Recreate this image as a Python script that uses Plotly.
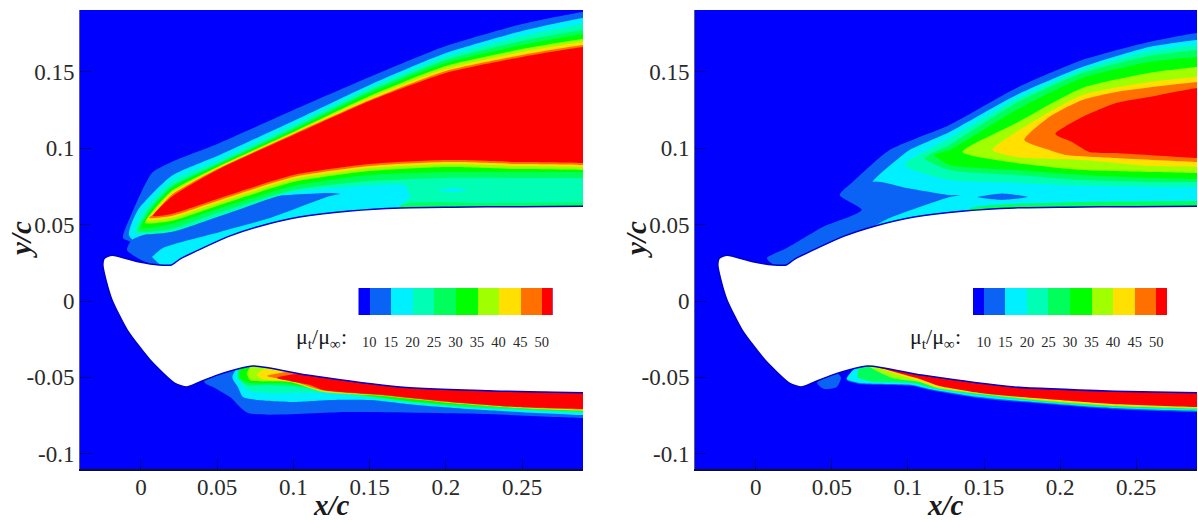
import plotly.graph_objects as go

# ---------- axis / legend content ----------
X_TICKS = [0, 0.05, 0.1, 0.15, 0.2, 0.25]
X_TEXT = ["0", "0.05", "0.1", "0.15", "0.2", "0.25"]
Y_TICKS = [-0.1, -0.05, 0, 0.05, 0.1, 0.15]
Y_TEXT = ["-0.1", "-0.05", "0", "0.05", "0.1", "0.15"]
LEVEL_TICKS = [10, 15, 20, 25, 30, 35, 40, 45, 50]
LEVEL_EDGES = [7.5, 10, 15, 20, 25, 30, 35, 40, 45, 50, 52.5]
LEVEL_COLORS = ["#0000ff", "#0a63f5", "#00f0ff", "#00ffb4", "#00ff5a", "#00ff00",
                "#a0ff00", "#ffe000", "#ff7000", "#ff0000"]
A, B, C, D, E, F, G, H, R = LEVEL_COLORS[1:]
EDGE_X = 0.29   # right end of the field

# ---------- airfoil outline (x/c, y/c) ----------
AIRFOIL = [(-0.024, 0.028), (-0.019, 0.030), (-0.001, 0.0255), (0.012, 0.0236), (0.020, 0.0236),
           (0.0256, 0.0275), (0.039, 0.034), (0.058, 0.0425), (0.078, 0.049), (0.104, 0.055),
           (0.137, 0.059), (0.17, 0.061), (0.203, 0.0615), (0.25, 0.0618), (0.29, 0.062), (0.29, -0.06),
           (0.2356, -0.059), (0.17, -0.0563), (0.109, -0.0485), (0.0735, -0.0425), (0.05, -0.0485),
           (0.037, -0.0537), (0.03, -0.0563), (0.022, -0.0537), (0.006, -0.0386), (-0.009, -0.019),
           (-0.019, 0.0007), (-0.023, 0.0138), (-0.025, 0.0236)]

# ---------- left panel, upper field ----------
L_STATIONS = [0.02, 0.05, 0.1, 0.15, 0.2, 0.25, 0.29]
L_A_TOP = [0.0910, 0.1028, 0.1251, 0.1467, 0.1670, 0.1814, 0.1893]
L_B_TOP = [0.0819, 0.0950, 0.1179, 0.1415, 0.1624, 0.1768, 0.1853]
L_C_TOP = [0.0786, 0.0917, 0.1153, 0.1395, 0.1598, 0.1735, 0.1814]
L_D_TOP = [0.0753, 0.0897, 0.1133, 0.1375, 0.1578, 0.1703, 0.1775]
L_E_TOP = [0.0740, 0.0891, 0.1120, 0.1362, 0.1559, 0.1676, 0.1749]
L_F_TOP = [0.0720, 0.0878, 0.1107, 0.1342, 0.1539, 0.1650, 0.1716]
L_G_TOP = [0.0707, 0.0871, 0.1100, 0.1329, 0.1519, 0.1631, 0.1696]
L_H_TOP = [0.0694, 0.0864, 0.1094, 0.1316, 0.1506, 0.1611, 0.1676]
L_R_TOP = [0.0681, 0.0858, 0.1087, 0.1310, 0.1493, 0.1598, 0.1663]
L_D_LOW = [0.0472, 0.0576, 0.0727, 0.0786, 0.0806, 0.0806, 0.0806]
L_E_LOW = [0.0504, 0.0602, 0.0753, 0.0825, 0.0845, 0.0845, 0.0845]
L_F_LOW = [0.0524, 0.0622, 0.0779, 0.0851, 0.0878, 0.0864, 0.0858]
L_G_LOW = [0.0544, 0.0642, 0.0799, 0.0871, 0.0897, 0.0884, 0.0878]
L_H_LOW = [0.0557, 0.0655, 0.0812, 0.0884, 0.0910, 0.0897, 0.0891]
L_R_LOW = [0.0570, 0.0668, 0.0825, 0.0897, 0.0923, 0.0910, 0.0904]
L_TIP_D = [(-0.002, 0.0458), (0.004, 0.0583)]
L_TIP_E = [(0.0, 0.0478), (0.006, 0.0589)]
L_TIP_F = [(0.0026, 0.0511), (0.0072, 0.0583)]
L_TIP_G = [(0.004, 0.0530), (0.0078, 0.0578)]
L_TIP_H = [(0.0052, 0.0544), (0.0085, 0.0570)]
L_TIP_R = [(0.0079, 0.0557)]

L_A_EXTRA_LEFT = [(-0.0118, 0.0413), (-0.0059, 0.0576), (0.0072, 0.0838)]
L_A_LOW = [(0.29, 0.05), (0.05, 0.035), (0.03, 0.02), (0.01, 0.02), (0.0039, 0.0255),
           (-0.0092, 0.0334), (-0.0052, 0.038)]
L_B_LEFT = [(-0.0079, 0.0432), (-0.002, 0.0596)]
L_B_LOW = [(0.29, 0.05), (0.1, 0.05), (0.05, 0.03), (0.025, 0.02), (0.013, 0.0236), (0.0072, 0.0288)]
L_POCKET = [(-0.006, 0.040), (0.0079, 0.0452), (0.0125, 0.0452), (0.0407, 0.0576), (0.0761, 0.0675),
            (0.124, 0.0707), (0.1306, 0.0701), (0.124, 0.0688), (0.0846, 0.0544), (0.0518, 0.0452),
            (0.0144, 0.0347), (0.0072, 0.0288), (0.0039, 0.0255), (-0.0092, 0.0334)]
L_C_LEFT = [(-0.004, 0.0445), (0.0013, 0.0583)]
L_C_LOW = [(0.29, 0.05), (0.17, 0.05), (0.17, 0.0616), (0.1765, 0.0681), (0.1732, 0.0755),
           (0.15, 0.0755), (0.1, 0.0715), (0.05, 0.055), (0.02, 0.0452)]
L_NEAR_WALL = [(0.17, 0.0625), (0.23, 0.064), (0.29, 0.0645), (0.29, 0.05), (0.17, 0.05)]
L_PATCH = [(0.194, 0.0727), (0.205, 0.0741), (0.215, 0.0727), (0.205, 0.0714)]

# ---------- left panel, lower field ----------
LL_A = [(0.042, -0.0537), (0.0472, -0.0563), (0.0584, -0.0629), (0.0702, -0.0733), (0.1371, -0.0727),
        (0.2244, -0.074), (0.29, -0.0766), (0.29, -0.05), (0.07, -0.03), (0.04, -0.04)]
LL_B = [(0.0636, -0.0563), (0.0669, -0.0629), (0.0761, -0.0648), (0.0997, -0.0661), (0.124, -0.0648),
        (0.1503, -0.0648), (0.1811, -0.0681), (0.2244, -0.0714), (0.29, -0.0747), (0.29, -0.05),
        (0.075, -0.03), (0.06, -0.05)]
LL_C = [(0.0663, -0.0537), (0.0696, -0.0583), (0.08, -0.0602), (0.1043, -0.0602), (0.124, -0.0602),
        (0.1588, -0.0648), (0.2028, -0.0694), (0.2467, -0.0714), (0.29, -0.0733), (0.29, -0.05),
        (0.075, -0.03)]
LL_D = [(0.0636, -0.0504), (0.0696, -0.055), (0.0827, -0.055), (0.1043, -0.0563), (0.126, -0.0596),
        (0.17, -0.0648), (0.2139, -0.0694), (0.29, -0.0727), (0.29, -0.05), (0.07, -0.03)]
LL_E = [(0.065, -0.0504), (0.0715, -0.0537), (0.0932, -0.0537), (0.109, -0.0563), (0.1371, -0.0602),
        (0.1811, -0.0661), (0.29, -0.0720), (0.29, -0.05), (0.07, -0.03)]
LL_F = [(0.0696, -0.0472), (0.0715, -0.0517), (0.0978, -0.053), (0.1194, -0.0596), (0.1588, -0.0622),
        (0.2028, -0.0668), (0.2467, -0.0701), (0.29, -0.072), (0.29, -0.055), (0.075, -0.04)]
LL_G = [(0.0761, -0.0485), (0.08, -0.0511), (0.0997, -0.053), (0.1194, -0.0589), (0.1588, -0.0619),
        (0.2028, -0.0665), (0.2467, -0.0697), (0.29, -0.0714), (0.29, -0.055), (0.1, -0.045), (0.08, -0.045)]
LL_H = [(0.0827, -0.0491), (0.1, -0.0525), (0.1194, -0.0586), (0.1588, -0.0618), (0.2028, -0.0663),
        (0.2467, -0.0695), (0.29, -0.0711), (0.29, -0.055), (0.17, -0.05), (0.1, -0.046)]
LL_R = [(0.0892, -0.0504), (0.1109, -0.055), (0.1194, -0.0583), (0.1588, -0.0616), (0.2028, -0.0661),
        (0.2467, -0.0694), (0.29, -0.0707), (0.29, -0.055), (0.17, -0.05), (0.1, -0.048)]

# ---------- right panel, upper field ----------
R_A = [(0.0072, 0.0282), (0.0203, 0.0347), (0.044, 0.0485), (0.0696, 0.0596), (0.0551, 0.0694),
       (0.0636, 0.0779), (0.0879, 0.0989), (0.1273, 0.1153), (0.1713, 0.1395), (0.2146, 0.1578),
       (0.2585, 0.1696), (0.29, 0.1755), (0.29, 0.05), (0.05, 0.03), (0.02, 0.02), (0.0092, 0.0255)]
R_B = [(0.0682, 0.0452), (0.0800, 0.0600), (0.0800, 0.0750), (0.0768, 0.0779), (0.0925, 0.0923),
       (0.101, 0.0989), (0.1273, 0.1107), (0.1713, 0.1349), (0.2146, 0.1532), (0.2585, 0.1663),
       (0.29, 0.1709), (0.29, 0.05), (0.1, 0.04)]
R_POCKET = [(0.0682, 0.0452), (0.0715, 0.0612), (0.0768, 0.0779), (0.0991, 0.074), (0.1273, 0.0694),
            (0.1339, 0.0694), (0.1253, 0.0675), (0.0879, 0.0544)]
R_C = [(0.0978, 0.0891), (0.1273, 0.1067), (0.1713, 0.1323), (0.2146, 0.1513), (0.2585, 0.1637),
       (0.29, 0.1676), (0.29, 0.0747), (0.2585, 0.0747), (0.2146, 0.0753), (0.1713, 0.0773), (0.1273, 0.0792)]
R_D = [(0.1109, 0.0936), (0.1273, 0.1022), (0.1713, 0.1297), (0.2146, 0.1493), (0.2585, 0.1604),
       (0.29, 0.1644), (0.29, 0.0779), (0.2585, 0.0779), (0.2146, 0.0792), (0.1713, 0.0825), (0.1273, 0.0858)]
R_E = [(0.1175, 0.0956), (0.1273, 0.0989), (0.1713, 0.1251), (0.2146, 0.1460), (0.2585, 0.1565),
       (0.29, 0.1598), (0.29, 0.0799), (0.2585, 0.0806), (0.2146, 0.0825), (0.1713, 0.0858), (0.1273, 0.0891)]
R_F = [(0.1358, 0.0976), (0.1713, 0.1166), (0.2146, 0.1395), (0.2585, 0.1493), (0.29, 0.1532),
       (0.29, 0.0838), (0.2585, 0.0845), (0.2146, 0.0858), (0.1713, 0.0904)]
R_G = [(0.1555, 0.0989), (0.1818, 0.1172), (0.2146, 0.1349), (0.2585, 0.1434), (0.29, 0.1467),
       (0.29, 0.0878), (0.2585, 0.0884), (0.2146, 0.0923), (0.1713, 0.0943)]
R_H = [(0.1765, 0.1054), (0.1929, 0.1205), (0.2146, 0.1316), (0.2369, 0.1369), (0.29, 0.1434),
       (0.29, 0.0910), (0.2369, 0.0936), (0.2041, 0.0956), (0.1929, 0.0989)]
R_R = [(0.1969, 0.1094), (0.2146, 0.1205), (0.2369, 0.1297), (0.2585, 0.1336), (0.29, 0.1395),
       (0.29, 0.0936), (0.2369, 0.0969), (0.2192, 0.0976), (0.2080, 0.1041)]
R_PATCH = [(0.1457, 0.0681), (0.162, 0.0705), (0.1785, 0.0681), (0.162, 0.0662)]
R_NEAR_WALL = [(0.14, 0.0600), (0.2, 0.0645), (0.29, 0.0655), (0.29, 0.05), (0.14, 0.05)]

# ---------- right panel, lower field ----------
RL_BLOB = [(0.0407, -0.05), (0.0407, -0.0545), (0.045, -0.0576), (0.053, -0.0565), (0.056, -0.05), (0.05, -0.045)]
RL_TOP = [(0.29, -0.05), (0.1, -0.04), (0.07, -0.04)]
RL_A = [(0.0597, -0.0515), (0.0682, -0.0543), (0.103, -0.0556), (0.1142, -0.0582), (0.147, -0.0636),
        (0.1909, -0.0675), (0.2343, -0.0708), (0.29, -0.0727)]
RL_B = [(0.0597, -0.0511), (0.0682, -0.0537), (0.103, -0.055), (0.1142, -0.0576), (0.147, -0.0629),
        (0.1909, -0.0668), (0.2343, -0.0701), (0.29, -0.072)]
RL_D = [(0.0669, -0.0498), (0.0768, -0.053), (0.103, -0.0537), (0.1161, -0.057), (0.147, -0.0616),
        (0.1909, -0.0661), (0.2343, -0.0694), (0.29, -0.071)]
RL_F = [(0.0899, -0.0504), (0.1076, -0.053), (0.1188, -0.057), (0.147, -0.0609), (0.1909, -0.0655),
        (0.2343, -0.0687), (0.29, -0.0704)]
RL_G = [(0.1076, -0.0524), (0.1188, -0.0563), (0.147, -0.0602), (0.1909, -0.0648), (0.2343, -0.0681),
        (0.29, -0.0697)]
RL_R = [(0.1096, -0.0517), (0.1207, -0.0557), (0.147, -0.0602), (0.1909, -0.0642), (0.2343, -0.0674),
        (0.29, -0.0694)]


def band(left, top, low):
    """Polygon: left tip points, upper curve left-to-right, lower curve right-to-left."""
    return left + list(zip(L_STATIONS, top)) + list(zip(L_STATIONS, low))[::-1]


def pad_right(pts):
    """Carry the polygon past the axis end, so curve rounding at the corners is clipped."""
    out = []
    n = len(pts)
    for i, p in enumerate(pts):
        out.append(p)
        q = pts[(i + 1) % n]
        if p[0] == EDGE_X and q[0] == EDGE_X:
            out += [(EDGE_X + 0.004, p[1]), (EDGE_X + 0.03, p[1]),
                    (EDGE_X + 0.03, q[1]), (EDGE_X + 0.004, q[1])]
    return out


LEFT_LAYERS = [
    (A, L_A_EXTRA_LEFT + list(zip(L_STATIONS, L_A_TOP)) + L_A_LOW),
    (B, L_B_LEFT + list(zip(L_STATIONS, L_B_TOP)) + L_B_LOW),
    (A, L_POCKET),
    (C, L_C_LEFT + list(zip(L_STATIONS, L_C_TOP)) + L_C_LOW),
    (D, L_NEAR_WALL),
    (B, L_PATCH),
    (D, band(L_TIP_D, L_D_TOP, L_D_LOW)),
    (E, band(L_TIP_E, L_E_TOP, L_E_LOW)),
    (F, band(L_TIP_F, L_F_TOP, L_F_LOW)),
    (G, band(L_TIP_G, L_G_TOP, L_G_LOW)),
    (H, band(L_TIP_H, L_H_TOP, L_H_LOW)),
    (R, band(L_TIP_R, L_R_TOP, L_R_LOW)),
    (A, LL_A), (B, LL_B), (C, LL_C), (D, LL_D), (E, LL_E), (F, LL_F), (G, LL_G), (H, LL_H), (R, LL_R),
]
RIGHT_LAYERS = [
    (A, R_A), (B, R_B), (A, R_POCKET), (D, R_NEAR_WALL), (C, R_C), (D, R_D), (E, R_E), (F, R_F),
    (G, R_G), (H, R_H), (R, R_R), (A, R_PATCH),
    (A, RL_BLOB),
    (A, RL_A + RL_TOP), (B, RL_B + RL_TOP), (D, RL_D + RL_TOP), (F, RL_F + RL_TOP),
    (G, RL_G + RL_TOP), (R, RL_R + RL_TOP),
]

W, H_PX = 1198, 520
fig = go.Figure()


def poly(pts, color, xa, ya, line=None):
    pts = pad_right(pts)
    style = dict(shape="spline", smoothing=0.6)
    if line:
        style.update(width=line[1], color=line[0])
    else:
        style.update(width=0, color=color)
    fig.add_trace(go.Scatter(
        x=[p[0] for p in pts] + [pts[0][0]], y=[p[1] for p in pts] + [pts[0][1]],
        mode="lines", fill="toself", fillcolor=color, line=style,
        xaxis=xa, yaxis=ya, hoverinfo="skip", showlegend=False))


for xa, ya, layers in (("x", "y", LEFT_LAYERS), ("x2", "y2", RIGHT_LAYERS)):
    for color, pts in layers:
        poly(pts, color, xa, ya)
    poly(AIRFOIL, "#ffffff", xa, ya, line=("#0000c8", 1.5))

for xa, ya in (("x3", "y3"), ("x4", "y4")):
    fig.add_trace(go.Bar(
        y=[0] * len(LEVEL_COLORS), base=LEVEL_EDGES[:-1],
        x=[b - a for a, b in zip(LEVEL_EDGES[:-1], LEVEL_EDGES[1:])],
        orientation="h", width=1, marker=dict(color=LEVEL_COLORS, line=dict(width=0)),
        xaxis=xa, yaxis=ya, hoverinfo="skip", showlegend=False))

SERIF = "Liberation Serif"
TICKC = "#2a2a2a"


def main_x(dom, anchor):
    return dict(domain=dom, anchor=anchor, range=[-0.04, 0.29], tickvals=X_TICKS, ticktext=X_TEXT,
                ticks="inside", ticklen=11, tickcolor="rgba(0,0,90,0.65)", showgrid=False, zeroline=False,
                showline=True, linecolor="#10102a", linewidth=1.5, ticklabelstandoff=-3,
                tickfont=dict(family=SERIF, size=23, color=TICKC))


def main_y(anchor):
    return dict(domain=[1 - 469 / H_PX, 1 - 10 / H_PX], anchor=anchor, range=[-0.11, 0.1906],
                tickvals=Y_TICKS, ticktext=Y_TEXT, ticks="inside", ticklen=11,
                tickcolor="rgba(0,0,90,0.65)", showgrid=False, zeroline=False,
                showline=True, linecolor="#5a5a90", linewidth=1,
                tickfont=dict(family=SERIF, size=23, color=TICKC))


def bar_x(dom, anchor):
    return dict(domain=dom, anchor=anchor, range=[LEVEL_EDGES[0], LEVEL_EDGES[-1]], tickvals=LEVEL_TICKS,
                ticks="outside", ticklen=14, tickcolor="rgba(0,0,0,0)", showgrid=False, zeroline=False,
                showline=False, tickfont=dict(family=SERIF, size=14.5, color=TICKC))


def bar_y(anchor):
    return dict(domain=[1 - 315 / H_PX, 1 - 288 / H_PX], anchor=anchor, range=[-0.5, 0.5], visible=False)


def label(text, xpx, ypx, size, angle=0):
    return dict(text=text, x=xpx / W, y=1 - ypx / H_PX, xref="paper", yref="paper", showarrow=False,
                xanchor="center", yanchor="middle", textangle=angle,
                font=dict(family=SERIF, size=size, color="#1a1a1a"))


fig.update_layout(
    width=W, height=H_PX, margin=dict(l=0, r=0, t=0, b=0), autosize=False,
    paper_bgcolor="#ffffff", plot_bgcolor="#0000ff", showlegend=False, bargap=0,
    xaxis=main_x([80 / W, 583 / W], "y"), yaxis=main_y("x"),
    xaxis2=main_x([695 / W, 1197 / W], "y2"), yaxis2=main_y("x2"),
    xaxis3=bar_x([358.5 / W, 552.5 / W], "y3"), yaxis3=bar_y("x3"),
    xaxis4=bar_x([973 / W, 1167 / W], "y4"), yaxis4=bar_y("x4"),
    annotations=[
        label("<b><i>x/c</i></b>", 331, 505, 29),
        label("<b><i>x/c</i></b>", 945, 505, 29),
        label("<b><i>y/c</i></b>", 21, 240, 29, -90),
        label("<b><i>y/c</i></b>", 636, 240, 29, -90),
        label("μ<sub>t</sub>/μ<sub>∞</sub>:", 321, 338, 22),
        label("μ<sub>t</sub>/μ<sub>∞</sub>:", 935, 338, 22),
    ],
)

fig.write_html("out.html", config={"displayModeBar": False},
               post_script="document.body.style.margin='0';")
